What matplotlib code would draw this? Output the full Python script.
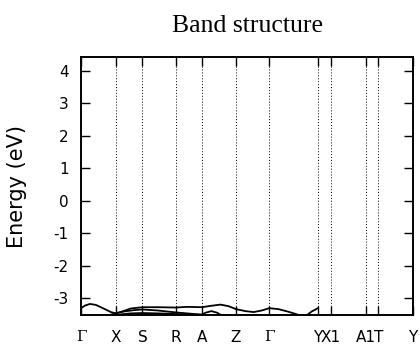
import numpy as np
import matplotlib
matplotlib.use("Agg")
import matplotlib.pyplot as plt

# High-symmetry points along the k-path (normalised distance)
kpoint_labels = ["Γ", "X", "S", "R", "A", "Z", "Γ", "Y", "X1", "A1", "T", "Y"]
kpoint_pos = [0.0, 0.105, 0.185, 0.285, 0.364, 0.467, 0.567, 0.713, 0.753, 0.858, 0.896, 1.0]

# Bands visible inside the energy window (eV)
band1_k = [0.0, 0.012, 0.027, 0.045, 0.07, 0.09, 0.105, 0.125, 0.15, 0.185, 0.23, 0.285,
           0.32, 0.364, 0.39, 0.42, 0.445, 0.467, 0.495, 0.52, 0.545, 0.567, 0.595,
           0.625, 0.65, 0.67]
band1_e = [-3.30, -3.22, -3.17, -3.20, -3.32, -3.42, -3.46, -3.40, -3.31, -3.27, -3.27,
           -3.28, -3.26, -3.27, -3.23, -3.19, -3.24, -3.33, -3.39, -3.42, -3.37, -3.30,
           -3.33, -3.41, -3.49, -3.56]
band2_k = [0.07, 0.09, 0.105, 0.13, 0.16, 0.185, 0.23, 0.285, 0.33, 0.364, 0.38]
band2_e = [-3.56, -3.50, -3.46, -3.40, -3.36, -3.34, -3.37, -3.43, -3.47, -3.50, -3.56]
band3_k = [0.10, 0.12, 0.15, 0.185, 0.23, 0.285, 0.33, 0.364, 0.375, 0.393, 0.41, 0.42, 0.43]
band3_e = [-3.56, -3.49, -3.46, -3.45, -3.46, -3.48, -3.50, -3.50, -3.44, -3.39, -3.44, -3.50, -3.58]
band4_k = [0.675, 0.685, 0.695, 0.705, 0.713]
band4_e = [-3.56, -3.48, -3.40, -3.35, -3.30]

ylim = (-3.51, 4.43)
yticks = [-3, -2, -1, 0, 1, 2, 3, 4]

fig = plt.figure(figsize=(4.2, 3.45), dpi=100)
ax = fig.add_axes([81 / 420, 30 / 345, 332 / 420, 258 / 345])

for k, e in [(band1_k, band1_e), (band2_k, band2_e), (band3_k, band3_e), (band4_k, band4_e)]:
    ax.plot(k, e, color="black", lw=1.3, solid_capstyle="round")

for x in kpoint_pos[1:-1]:
    ax.axvline(x, color="black", lw=0.7, linestyle=(0, (1, 2)), zorder=0)

ax.set_xlim(kpoint_pos[0], kpoint_pos[-1])
ax.set_ylim(*ylim)
ax.set_xticks(kpoint_pos)
ax.set_yticks(yticks)
ax.set_yticklabels([str(v) for v in yticks], family="DejaVu Sans", fontsize=11)
ax.set_xticklabels(kpoint_labels, fontsize=11)
for lab, name in zip(ax.get_xticklabels(), kpoint_labels):
    if name == "Γ":
        lab.set_family("DejaVu Serif")
    else:
        lab.set_family("DejaVu Sans")

ax.tick_params(direction="in", length=6.5, width=1.0, top=True, right=True,
               pad=9, colors="black")
ax.tick_params(axis="x", pad=11)
for s in ax.spines.values():
    s.set_linewidth(1.4)

ax.set_ylabel("Energy (eV)", fontsize=15, family="DejaVu Sans", labelpad=19)
ax.set_title("Band structure", fontsize=18.5, family="Liberation Serif", pad=18)

fig.savefig("out.png", dpi=100)
